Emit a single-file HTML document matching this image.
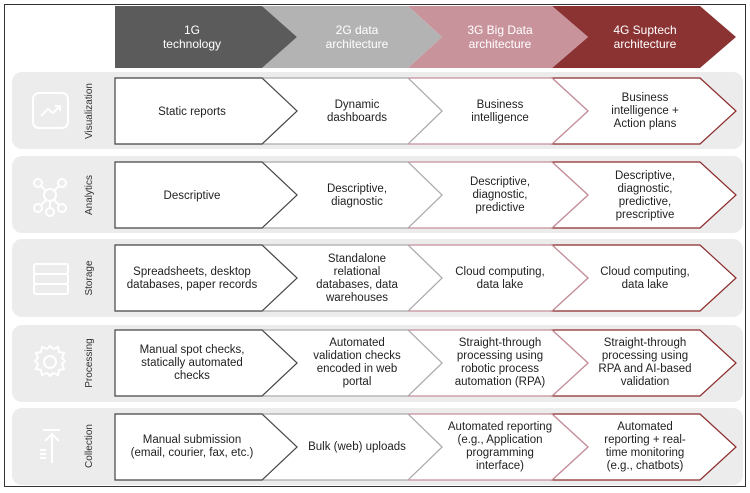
<!DOCTYPE html>
<html><head><meta charset="utf-8"><style>
html,body{margin:0;padding:0;background:#fff;}
svg{display:block;font-family:"Liberation Sans",sans-serif;}
</style></head><body>
<svg width="750" height="493" viewBox="0 0 750 493" xmlns="http://www.w3.org/2000/svg">
<rect x="4.5" y="4.5" width="741" height="482" fill="#fff" stroke="#333" stroke-width="1"/>
<!-- header -->
<path d="M552 6 H700 L736 37 L700 68 H552 L588 37 Z" fill="#8b3333"/>
<path d="M408 6 H552 L588 37 L552 68 H408 L442 37 Z" fill="#c9939c"/>
<path d="M262 6 H408 L442 37 L408 68 H262 L297 37 Z" fill="#b3b3b3"/>
<path d="M115 6 H262 L297 37 L262 68 H115 Z" fill="#5b5b5b"/>
<g fill="#fff" font-size="12" text-anchor="middle">
<text x="192" y="34">1G</text><text x="192" y="48">technology</text>
<text x="357" y="34">2G data</text><text x="357" y="48">architecture</text>
<text x="500" y="34">3G Big Data</text><text x="500" y="48">architecture</text>
<text x="645" y="34">4G Suptech</text><text x="645" y="48">architecture</text>
</g>
<!-- bands -->
<g fill="#ececec">
<rect x="12" y="72" width="731" height="77" rx="10"/>
<rect x="12" y="156" width="731" height="77" rx="10"/>
<rect x="12" y="239" width="731" height="78" rx="10"/>
<rect x="12" y="325" width="731" height="77" rx="10"/>
<rect x="12" y="408" width="731" height="77" rx="10"/>
</g>
<!-- row chevrons -->
<defs>
<g id="r">
<path d="M552 0 H700 L736 33 L700 66 H552 L588 33 Z" fill="#fff" stroke="#8b2a2a" stroke-width="1.2"/>
<path d="M408 0 H552 L588 33 L552 66 H408 L442 33 Z" fill="#fff" stroke="#c4909a" stroke-width="1.2"/>
<path d="M262 0 H408 L442 33 L408 66 H262 L297 33 Z" fill="#fff" stroke="#aaa" stroke-width="1.2"/>
<path d="M115 0 H262 L297 33 L262 66 H115 Z" fill="#fff" stroke="#444" stroke-width="1.2"/>
</g>
</defs>
<use href="#r" y="78"/>
<use href="#r" y="162"/>
<use href="#r" y="245"/>
<use href="#r" y="330"/>
<use href="#r" y="414"/>
<!-- row labels -->
<g fill="#333" font-size="10" text-anchor="middle">
<text transform="translate(92 111) rotate(-90)">Visualization</text>
<text transform="translate(92 195) rotate(-90)">Analytics</text>
<text transform="translate(92 278) rotate(-90)">Storage</text>
<text transform="translate(92 363) rotate(-90)">Processing</text>
<text transform="translate(92 446) rotate(-90)">Collection</text>
</g>
<!-- icons -->
<g fill="none" stroke="#fff" stroke-width="2">
<rect x="33" y="93" width="35" height="35" rx="6"/>
<path d="M41 116 L48 109 L53 113 L60 106 M55 106 H60 V111"/>
<circle cx="50" cy="195" r="6"/><circle cx="38" cy="183" r="4"/><circle cx="62" cy="183" r="4"/>
<circle cx="38" cy="208" r="4"/><circle cx="62" cy="208" r="4"/><circle cx="50" cy="212" r="4"/>
<path d="M41 186 L46 191 M59 186 L54 191 M41 205 L46 200 M59 205 L54 200 M50 201 V208"/>
<rect x="34" y="264" width="34" height="10" rx="2"/><rect x="34" y="274" width="34" height="10" rx="2"/><rect x="34" y="284" width="34" height="10" rx="2"/>
<circle cx="50" cy="362" r="6"/>
<path d="M50 346 l3 3 l5 -2 l1 5 l5 1 l-2 5 l3 3 l-3 3 l2 5 l-5 1 l-1 5 l-5 -2 l-3 3 l-3 -3 l-5 2 l-1 -5 l-5 -1 l2 -5 l-3 -3 l3 -3 l-2 -5 l5 -1 l1 -5 l5 2 z"/>
<path d="M43 430 H60 M52 433 V463 M45 441 L52 434 L59 441 M40 450 H46 M40 454 H46 M40 458 H46"/>
</g>
<!-- cell text -->
<g fill="#222" font-size="11.5" text-anchor="middle">
<text x="192" y="115">Static reports</text>
<text x="357" y="108">Dynamic</text><text x="357" y="121">dashboards</text>
<text x="500" y="108">Business</text><text x="500" y="121">intelligence</text>
<text x="645" y="101">Business</text><text x="645" y="114">intelligence +</text><text x="645" y="127">Action plans</text>

<text x="192" y="199">Descriptive</text>
<text x="357" y="192">Descriptive,</text><text x="357" y="205">diagnostic</text>
<text x="500" y="185">Descriptive,</text><text x="500" y="198">diagnostic,</text><text x="500" y="211">predictive</text>
<text x="645" y="179">Descriptive,</text><text x="645" y="192">diagnostic,</text><text x="645" y="205">predictive,</text><text x="645" y="218">prescriptive</text>

<text x="192" y="275">Spreadsheets, desktop</text><text x="192" y="288">databases, paper records</text>
<text x="357" y="262">Standalone</text><text x="357" y="275">relational</text><text x="357" y="288">databases, data</text><text x="357" y="301">warehouses</text>
<text x="500" y="275">Cloud computing,</text><text x="500" y="288">data lake</text>
<text x="645" y="275">Cloud computing,</text><text x="645" y="288">data lake</text>

<text x="192" y="353">Manual spot checks,</text><text x="192" y="366">statically automated</text><text x="192" y="379">checks</text>
<text x="357" y="346">Automated</text><text x="357" y="359">validation checks</text><text x="357" y="372">encoded in web</text><text x="357" y="385">portal</text>
<text x="500" y="346">Straight-through</text><text x="500" y="359">processing using</text><text x="500" y="372">robotic process</text><text x="500" y="385">automation (RPA)</text>
<text x="645" y="346">Straight-through</text><text x="645" y="359">processing using</text><text x="645" y="372">RPA and AI-based</text><text x="645" y="385">validation</text>

<text x="192" y="443">Manual submission</text><text x="192" y="456">(email, courier, fax, etc.)</text>
<text x="357" y="450">Bulk (web) uploads</text>
<text x="500" y="430">Automated reporting</text><text x="500" y="443">(e.g., Application</text><text x="500" y="456">programming</text><text x="500" y="469">interface)</text>
<text x="645" y="430">Automated</text><text x="645" y="443">reporting + real-</text><text x="645" y="456">time monitoring</text><text x="645" y="469">(e.g., chatbots)</text>
</g>
</svg>
</body></html>
